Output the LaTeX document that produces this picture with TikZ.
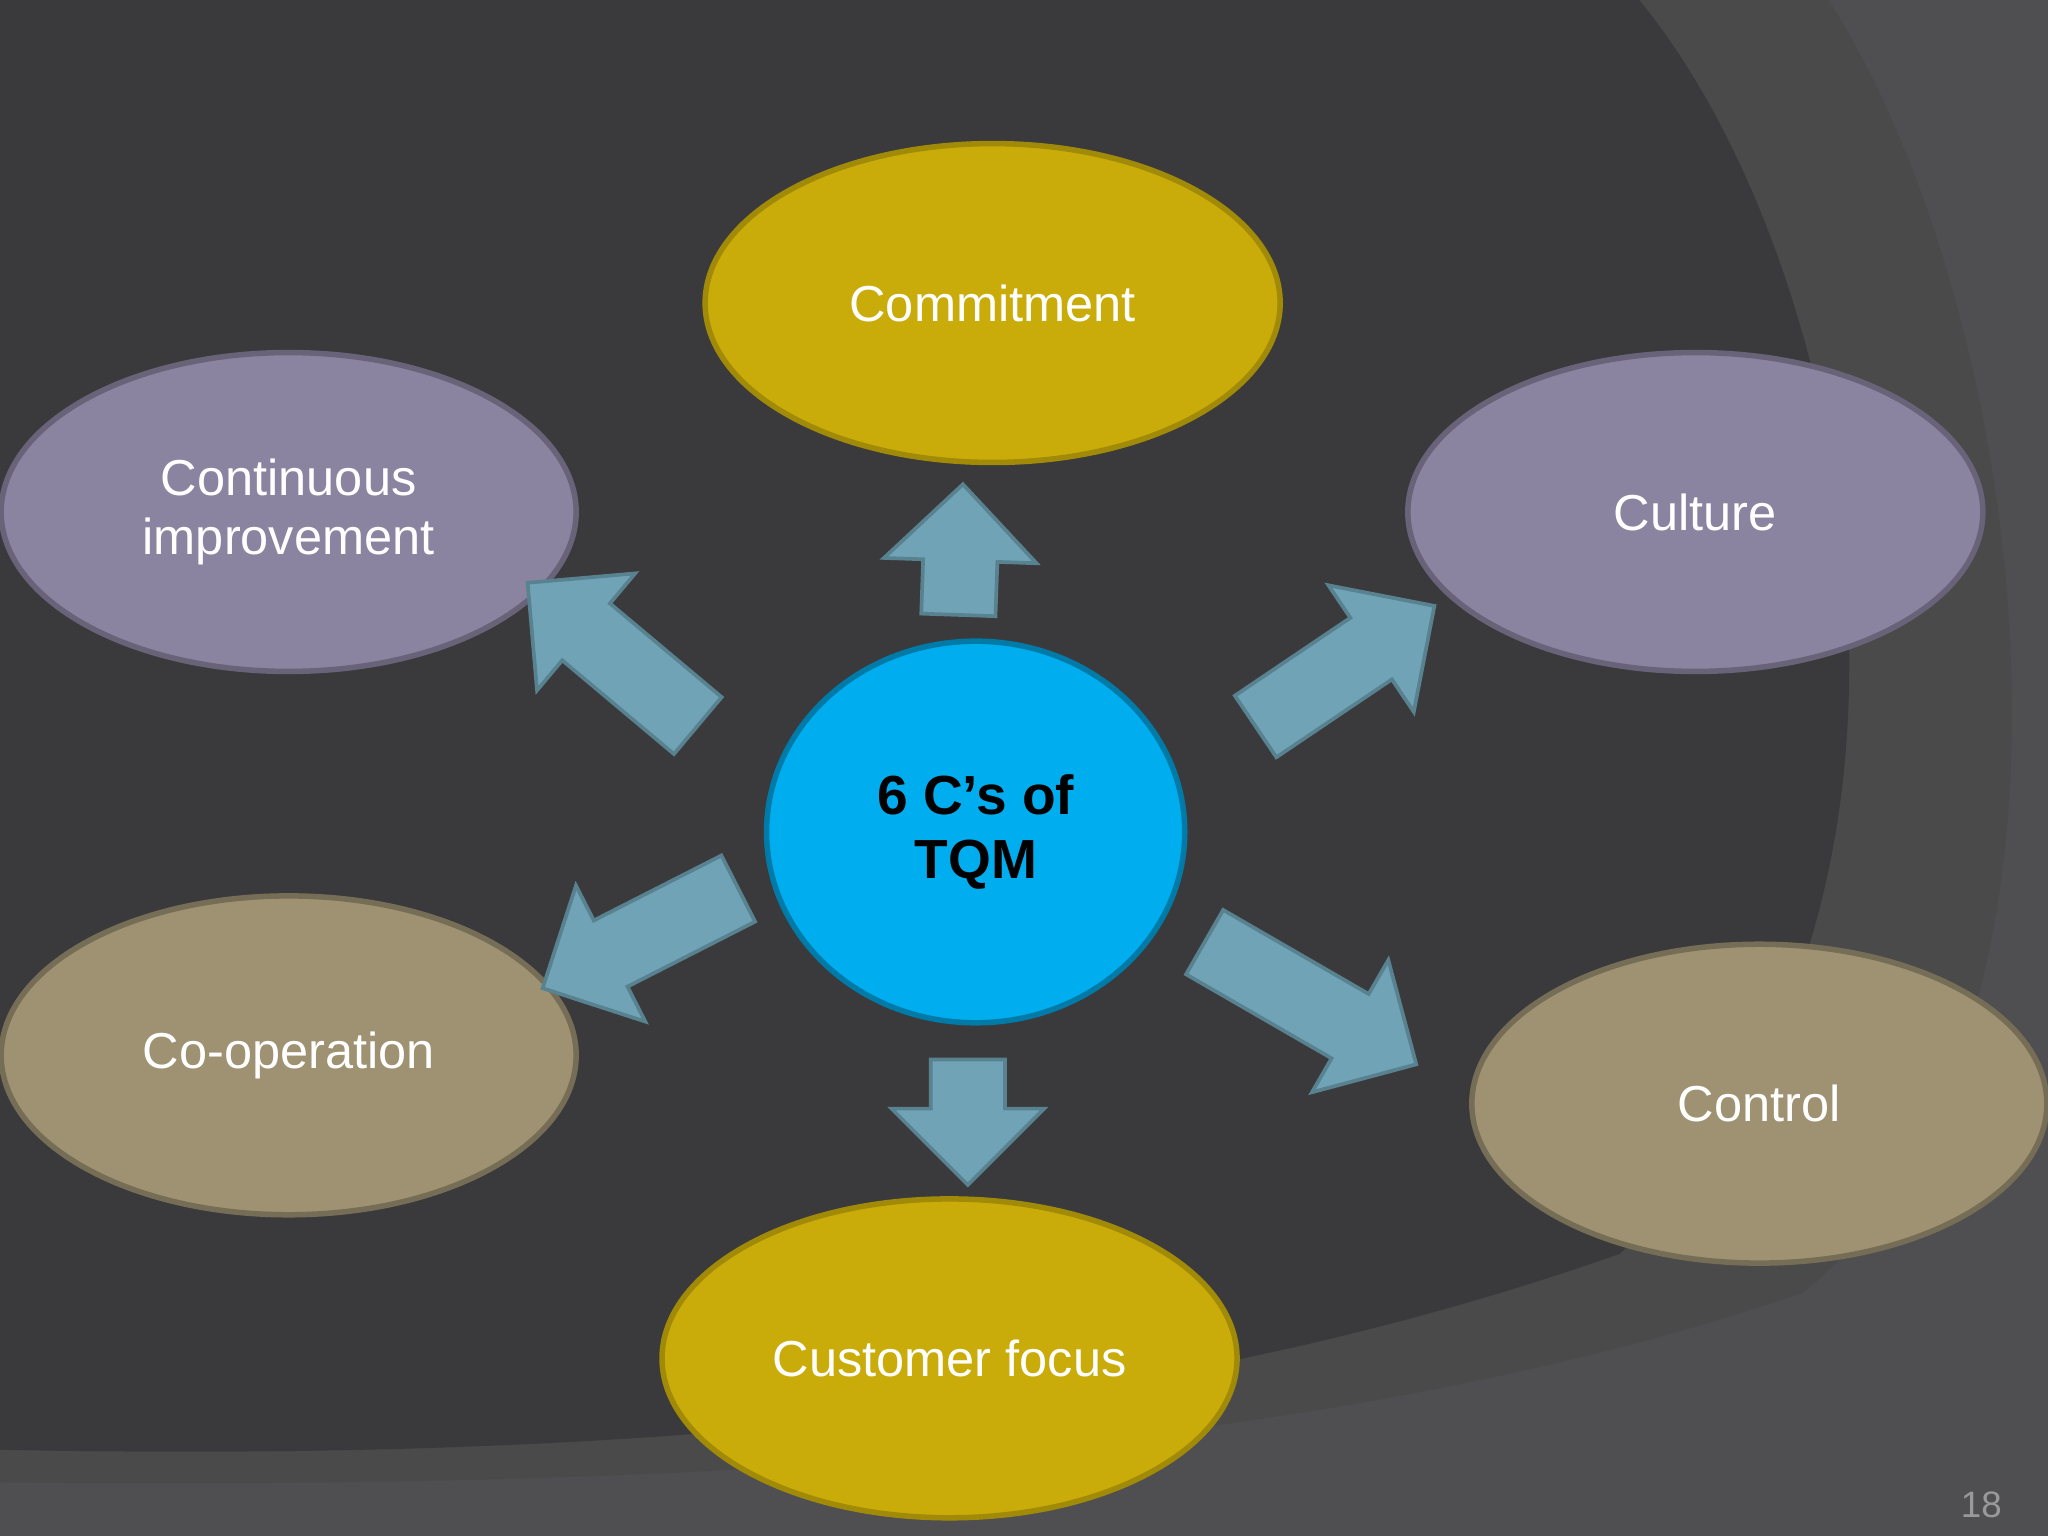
\documentclass[tikz,border=0pt]{standalone}
\usepackage{fontspec}
\setmainfont{Liberation Sans}
\usetikzlibrary{shapes.arrows,shapes.geometric}
\definecolor{bgdark}{HTML}{3A3A3C}
\definecolor{bglight}{HTML}{4F4F52}
\definecolor{cyellow}{HTML}{C9AC0A}
\definecolor{cpurple}{HTML}{8B84A0}
\definecolor{ctan}{HTML}{9E9272}
\definecolor{cblue}{HTML}{00AEEF}
\definecolor{carrow}{HTML}{6FA3B5}
\begin{document}
\begin{tikzpicture}[x=0.01cm, y=-0.01cm]
    \tikzset{
        topic/.style = {ellipse, draw, line width=1.2pt, text=white, align=center,
                        font=\fontsize{11}{13}\selectfont, minimum width=4.4cm, minimum height=2.44cm},
        yel/.style = {topic, fill=cyellow, draw=cyellow!80!black},
        pur/.style = {topic, fill=cpurple, draw=cpurple!75!black},
        tan/.style = {topic, fill=ctan, draw=ctan!75!black},
        blk/.style = {single arrow, fill=carrow, draw=carrow!80!black, line width=0.8pt,
                      inner xsep=0pt, inner ysep=0.27cm, single arrow head extend=0.3cm,
                      single arrow tip angle=90}
    }
    % background
    \useasboundingbox (0,0) rectangle (1568,1176);
    \fill[bglight] (0,0) rectangle (1568,1176);
    \fill[bgdark!92!white] (0,0) -- (1400,0) .. controls (1560,250) and (1620,800) .. (1380,990)
        .. controls (1000,1120) and (500,1140) .. (0,1135) -- cycle;
    \fill[bgdark] (0,0) -- (1255,0) .. controls (1420,200) and (1520,700) .. (1240,960)
        .. controls (900,1080) and (500,1120) .. (0,1110) -- cycle;

    % ellipses
    \node[yel] (commit) at (760,232) {Commitment};
    \node[pur] (culture) at (1298,392) {Culture};
    \node[pur] (contimp) at (221,392) {Continuous\\improvement};
    \node[tan] (coop) at (221,808) {Co-operation};
    \node[tan] (control) at (1347,845) {Control};
    \node[yel] (custfoc) at (727,1040) {Customer focus};

    \node[ellipse, fill=cblue, draw=cblue!70!black, line width=1.2pt, minimum width=3.2cm, minimum height=2.92cm,
          align=center, font=\fontsize{12}{14}\selectfont\bfseries] (tqm) at (747,637) {6 C’s of\\TQM};

    % block arrows
    \node[blk, minimum height=1.0cm, rotate=88] (aup) at (735,435) {};
    \node[blk, minimum height=1.7cm, rotate=140] (aul) at (480,510) {};
    \node[blk, minimum height=1.65cm, rotate=34] (aur) at (1018,518) {};
    \node[blk, minimum height=1.68cm, rotate=207] (all) at (503,712) {};
    \node[blk, minimum height=1.87cm, rotate=-30] (alr) at (991,761) {};
    \node[blk, minimum height=0.96cm, rotate=-90] (adn) at (741,845) {};

    \node[text=gray!80, font=\fontsize{8}{9}\selectfont] (pnum) at (1517,1152) {18};
\end{tikzpicture}
\end{document}
